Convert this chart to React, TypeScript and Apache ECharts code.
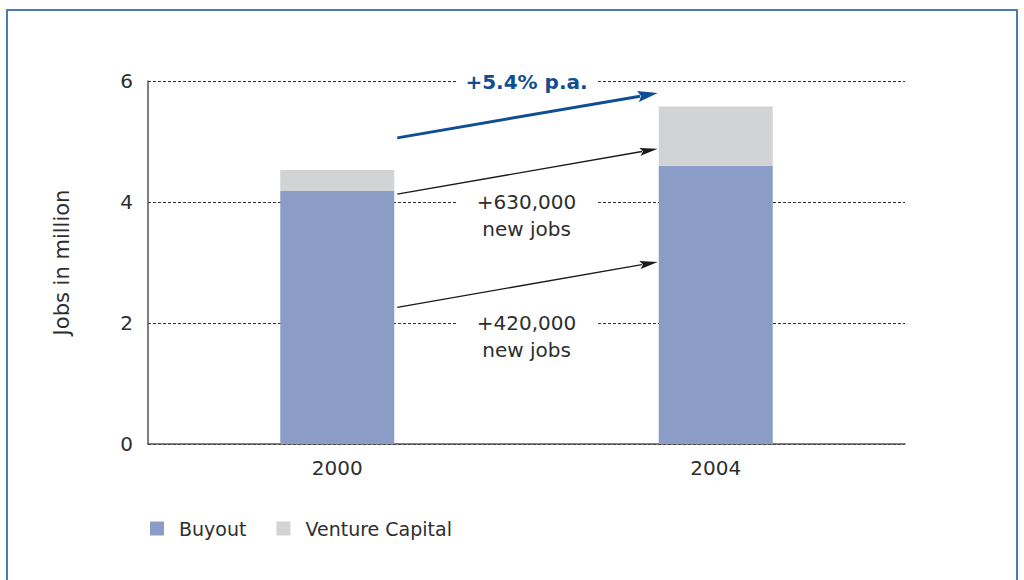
import React, { useEffect, useRef } from "react";
import * as echarts from "echarts";

const categories = ["2000", "2004"];
const buyout = [4.18, 4.6];
const ventureCapital = [0.35, 0.98];

// annotation arrows: [startValue at 2000 bar, endValue at 2004 bar, kind (1 = growth, 0 = jobs)]
const arrowFrom = [5.06, 4.13, 2.26];
const arrowTo = [5.8, 4.88, 3.01];
const arrowKind = [1, 0, 0];

// annotation notes, first line centered on grid levels
const noteLevels = [6, 4, 2];
const noteTexts = ["+5.4% p.a.", "+630,000\nnew jobs", "+420,000\nnew jobs"];
const noteKind = [1, 0, 0];

const FONT = "'DejaVu Sans', 'Open Sans', sans-serif";
const BAR_W = 114;
const BLUE = "#0f4e93";
const TEXT = "#2e2e2e";

export default function App() {
  const ref = useRef<HTMLDivElement>(null);
  useEffect(() => {
    if (!ref.current) return;
    const chart = echarts.init(ref.current, null, { renderer: "svg" });

    const arrowData = arrowFrom.map((f, i) => [0, f, arrowTo[i], arrowKind[i]]);
    const noteData = noteLevels.map((lv, i) => [0, lv, i]);

    const option: any = {
      animation: false,
      backgroundColor: "#ffffff",
      graphic: [
        {
          type: "rect",
          silent: true,
          shape: { x: 7, y: 10, width: 1010, height: 640 },
          style: { fill: "none", stroke: "#4a7db8", lineWidth: 2 },
          z: 100,
        },
      ],
      grid: { left: 148, right: 119, top: 81, bottom: 136, containLabel: false },
      legend: {
        left: 150,
        top: 519,
        padding: 0,
        itemWidth: 14,
        itemHeight: 14,
        itemGap: 30,
        icon: "rect",
        data: ["Buyout", "Venture Capital"],
        textStyle: { fontFamily: FONT, fontSize: 19, color: TEXT, padding: [0, 0, 0, 10] },
      },
      xAxis: {
        type: "category",
        data: categories,
        axisLine: { show: true, lineStyle: { color: "#555555", width: 1.5 } },
        axisTick: { show: false },
        axisLabel: { fontFamily: FONT, fontSize: 20, color: TEXT, margin: 14 },
      },
      yAxis: {
        type: "value",
        min: 0,
        max: 6,
        interval: 2,
        name: "Jobs in million",
        nameLocation: "middle",
        nameGap: 76,
        nameRotate: 90,
        nameTextStyle: { fontFamily: FONT, fontSize: 21, color: TEXT },
        axisLine: { show: true, lineStyle: { color: "#555555", width: 1.5 } },
        axisTick: { show: false },
        axisLabel: { fontFamily: FONT, fontSize: 20, color: TEXT, margin: 15 },
        splitLine: {
          show: true,
          lineStyle: { color: "#333333", width: 1.2, type: [3, 2] },
        },
      },
      series: [
        {
          name: "Buyout",
          type: "bar",
          stack: "jobs",
          barWidth: BAR_W,
          data: buyout,
          itemStyle: { color: "#8b9dc7" },
          z: 2,
        },
        {
          name: "Venture Capital",
          type: "bar",
          stack: "jobs",
          barWidth: BAR_W,
          data: ventureCapital,
          itemStyle: { color: "#d2d3d5" },
          z: 2,
        },
        {
          name: "arrows",
          type: "custom",
          clip: false,
          z: 5,
          encode: { x: 0, y: [1, 2] },
          data: arrowData,
          renderItem: (params: any, api: any) => {
            const a = api.coord([0, api.value(1)]);
            const b = api.coord([1, api.value(2)]);
            const x1 = a[0] + BAR_W / 2 + 3;
            const y1 = a[1];
            const x2 = b[0] - BAR_W / 2 - 1;
            const y2 = b[1];
            const growth = api.value(3) === 1;
            const color = growth ? BLUE : "#1a1a1a";
            const L = growth ? 20 : 18;
            const W = growth ? 11 : 8;
            const dx = x2 - x1;
            const dy = y2 - y1;
            const len = Math.sqrt(dx * dx + dy * dy);
            const ux = dx / len;
            const uy = dy / len;
            const bx = x2 - ux * L;
            const by = y2 - uy * L;
            const nx = -uy;
            const ny = ux;
            return {
              type: "group",
              children: [
                {
                  type: "line",
                  shape: { x1, y1, x2: bx + ux * 2, y2: by + uy * 2 },
                  style: { stroke: color, lineWidth: growth ? 3 : 1.3 },
                },
                {
                  type: "polygon",
                  shape: {
                    points: [
                      [x2, y2],
                      [bx + (nx * W) / 2, by + (ny * W) / 2],
                      [bx + ux * 3, by + uy * 3],
                      [bx - (nx * W) / 2, by - (ny * W) / 2],
                    ],
                  },
                  style: { fill: color },
                },
              ],
            };
          },
        },
        {
          name: "notes",
          type: "custom",
          clip: false,
          z: 6,
          encode: { x: 0, y: 1 },
          data: noteData,
          renderItem: (params: any, api: any) => {
            const idx = api.value(2);
            const a = api.coord([0, api.value(1)]);
            const b = api.coord([1, api.value(1)]);
            const cx = (a[0] + b[0]) / 2;
            const cy = a[1];
            const growth = noteKind[idx] === 1;
            const LH = 27;
            return {
              type: "group",
              children: [
                {
                  type: "rect",
                  shape: { x: cx - 69, y: cy - 8, width: 139, height: 16 },
                  style: { fill: "#ffffff" },
                },
                {
                  type: "text",
                  x: cx,
                  y: cy - LH / 2 + (growth ? 1 : 0),
                  style: {
                    text: noteTexts[idx],
                    fill: growth ? BLUE : TEXT,
                    fontFamily: FONT,
                    fontSize: 20,
                    fontWeight: growth ? "bold" : "normal",
                    lineHeight: LH,
                    align: "center",
                    verticalAlign: "top",
                  },
                },
              ],
            };
          },
        },
      ],
    };

    chart.setOption(option);
    return () => chart.dispose();
  }, []);

  return (
    <div
      ref={ref}
      style={{ position: "absolute", left: 0, top: 0, width: 1024, height: 580 }}
    />
  );
}
